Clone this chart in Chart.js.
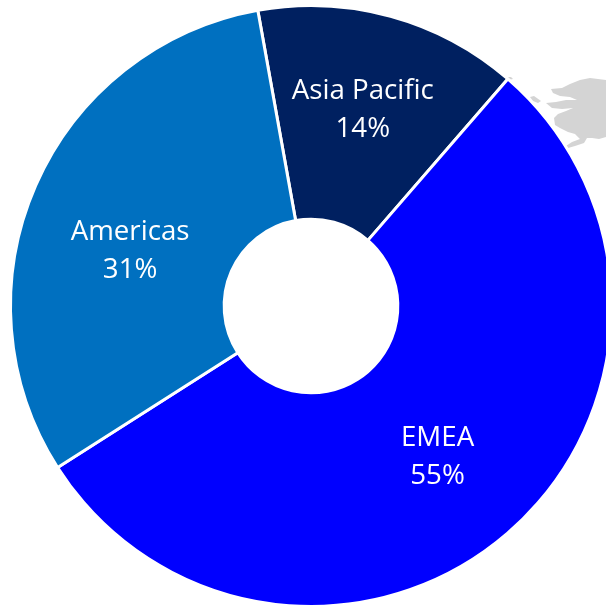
<!DOCTYPE html>
<html>
<head>
<meta charset="utf-8">
<style>
html,body{margin:0;padding:0;background:#fff;width:606px;height:605px;overflow:hidden}
#wrap{position:relative;width:606px;height:605px;overflow:hidden}
#map{position:absolute;left:0;top:0}
canvas{position:absolute;left:0;top:0}
</style>
<script src="https://cdn.jsdelivr.net/npm/chart.js@4/dist/chart.umd.min.js"></script>
</head>
<body>
<div id="wrap">
<svg id="map" width="606" height="605" fill="#d4d4d4">
<path d="M551 89 L562 88 L570 84 L580 80 L590 78 L606 80 L606 137 L599 139 L592 138 L587 138 L584 143 L575 146 L568 148 L566 146 L572 142 L580 139 L575 134 L568 132 L560 128 L555 125 L554 118 L558 114 L566 111 L573 108 L562 109 L552 108 L546 103 L556 102 L566 100 L577 100 L570 97 L560 96 L553 93 Z"/>
<path d="M530 97 L534 96 L541 101 L538 103 L533 101 Z"/>
<path d="M506 77 L511 77 L513 79 L508 80 Z"/>
</svg>
<canvas id="c" width="622" height="612"></canvas>
</div>
<script>
const categories = ["Asia Pacific", "EMEA", "Americas"];
const shares = [14.2, 54.6, 31.2];
const colors = ["#002060", "#0000FF", "#0070C0"];

const labelPlugin = {
  id: "sliceLabels",
  afterDatasetsDraw(chart) {
    const ctx = chart.ctx;
    const nudges = [[0.5, -9], [0, 5], [-3.5, 23]];
    ctx.save();
    ctx.fillStyle = "#fff";
    ctx.font = '27.7px "Open Sans"';
    ctx.textAlign = "center";
    ctx.textBaseline = "middle";
    chart.getDatasetMeta(0).data.forEach((arc, i) => {
      const p = arc.getCenterPoint();
      const x = p.x + nudges[i][0], y = p.y + nudges[i][1];
      ctx.fillText(categories[i], x, y - 19);
      ctx.fillText(Math.round(shares[i]) + "%", x, y + 19);
    });
    ctx.restore();
  }
};

new Chart(document.getElementById("c"), {
  type: "doughnut",
  data: {
    labels: categories,
    datasets: [{ data: shares, backgroundColor: colors, borderColor: "#fff", borderWidth: 3, borderAlign: "center" }]
  },
  options: {
    responsive: false,
    animation: false,
    rotation: -10.2,
    cutout: 88,
    radius: 300.5,
    layout: { padding: 0 },
    plugins: { legend: { display: false }, tooltip: { enabled: false } }
  },
  plugins: [labelPlugin]
});
</script>
</body>
</html>
